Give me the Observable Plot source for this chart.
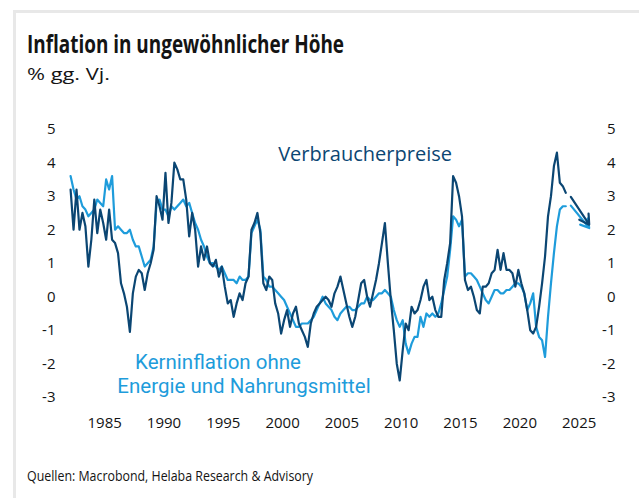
<!DOCTYPE html>
<html>
<head>
<meta charset="utf-8">
<script src="https://cdn.jsdelivr.net/npm/d3@7"></script>
<script src="https://cdn.jsdelivr.net/npm/@observablehq/plot@0.6"></script>
<style>
  body { margin: 0; background: #fff; }
  #wrap { position: relative; width: 639px; height: 498px; overflow: hidden; background: #fff;
          font-family: "Open Sans", sans-serif; color: #141414; }
  #frame { position: absolute; left: 13px; top: 10px; width: 700px; height: 600px;
           border-top: 3px solid #e8e8e8; border-left: 3px solid #e8e8e8; }
  .t { position: absolute; left: 27px; white-space: nowrap; transform-origin: 0 0; line-height: 1; }
  #title { top: 30.8px; font-size: 25px; font-weight: 700; }
  #subtitle { top: 64.9px; font-size: 17px; }
  #caption { top: 469.3px; font-size: 14px; }
  #chart { position: absolute; left: 0; top: 100px; }
</style>
</head>
<body>
<div id="wrap">
  <div id="frame"></div>
  <div class="t" id="title" data-w="317">Inflation in ungewöhnlicher Höhe</div>
  <div class="t" id="subtitle" data-w="83">% gg. Vj.</div>
  <div id="chart"></div>
  <div class="t" id="caption" data-w="286">Quellen: Macrobond, Helaba Research &amp; Advisory</div>
</div>
<script>
// Quarterly year-over-year rates, % (1982 Q1 ... 2023 Q4)
const startYear = 1982;
const cpi = [
  3.2, 2.0, 3.2, 2.0,   2.5, 2.1, 0.9, 1.7,   2.9, 1.9, 2.6, 2.2,   1.7, 2.6, 1.7, 1.6,
  1.3, 0.4, 0.1, -0.3,  -1.05, 0.1, 0.6, 0.8, 0.7, 0.2, 0.7, 1.0,   1.4, 3.0, 2.7, 2.3,
  3.7, 2.2, 2.8, 4.0,   3.8, 3.5, 3.5, 2.9,   1.8, 2.5, 2.0, 0.9,   1.5, 1.1, 1.5, 1.0,
  0.9, 1.1, 0.6, 0.9,   0.3, -0.2, -0.1, -0.6, -0.2, 0.1, -0.1, 0.4, 0.6, 2.0, 2.2, 2.5,
  1.9, 0.4, 0.2, 0.6,   0.5, -0.2, -0.5, -1.1, -0.7, -0.4, -0.9, -0.5, -0.3, -0.8, -1.0, -1.2,
  -1.5, -0.8, -0.5, -0.3, -0.2, -0.1, 0.0, -0.1, -0.3, 0.1, 0.3, 0.6, 0.2, -0.2, -0.6, -0.9,
  -0.6, -0.1, 0.4, 0.5, 0.0, -0.3, 0.1, 0.5,  1.0, 1.6, 2.2, 1.0,   -0.1, -1.0, -2.0, -2.5,
  -1.6, -0.8, -1.0, -0.3, -0.5, -0.4, -0.1, 0.3, 0.5, -0.1, 0.0, -0.4, -0.6, -0.6, 0.5, 1.0,
  1.6, 3.6, 3.4, 3.0,   2.4, 0.5, 0.2, 0.3,   0.0, -0.4, -0.5, 0.3,  0.3, 0.4, 0.7, 0.8,
  1.4, 0.8, 1.3, 0.8,   0.8, 0.7, 0.3, 0.8,   0.4, 0.1, -0.4, -1.0, -1.1, -0.9, -0.3, 0.4,
  1.2, 2.4, 3.0, 3.9,   4.3, 3.4, 3.3, 3.1
];
const core = [
  3.6, 3.2, 2.9, 3.0,   2.7, 2.6, 2.4, 2.5,   2.6, 2.9, 2.8, 2.7,   3.5, 3.2, 3.6, 2.0,
  2.1, 2.0, 1.9, 1.9,   2.0, 1.7, 1.5, 1.5,   1.2, 0.9, 1.0, 1.1,   1.5, 2.8, 2.9, 2.6,
  2.6, 2.4, 2.7, 2.6,   2.7, 2.8, 2.9, 2.7,   2.8, 2.5, 2.2, 2.0,   1.7, 1.5, 1.2, 1.0,
  1.0, 0.9, 0.8, 0.9,   0.7, 0.5, 0.5, 0.5,   0.4, 0.6, 0.5, 0.5,   0.6, 1.9, 2.1, 2.3,
  2.0, 0.6, 0.5, 0.3,   0.3, 0.2, 0.1, 0.0,   -0.1, -0.3, -0.5, -0.7, -0.9, -0.9, -0.8, -0.8,
  -0.8, -0.7, -0.6, -0.4, -0.2, 0.0, -0.2, -0.3, -0.4, -0.6, -0.7, -0.5, -0.4, -0.3, -0.3, -0.4,
  -0.4, -0.3, -0.2, -0.2, 0.0, -0.1, -0.1, 0.0, 0.1, 0.1, 0.2, 0.1,   0.0, -0.4, -0.7, -0.9,
  -0.7, -1.4, -1.7, -1.4, -1.2, -1.2, -0.6, -0.9, -0.5, -0.6, -0.5, -0.6, -0.5, -0.2, 0.2, 0.6,
  1.4, 2.4, 2.3, 2.1,   2.3, 0.6, 0.7, 0.7,   0.6, 0.5, 0.3, 0.1,   -0.1, -0.2, 0.0, 0.2,
  0.2, 0.1, 0.1, 0.2,   0.2, 0.3, 0.4, 0.4,   0.3, 0.1, -0.4, -0.2,  0.1, -0.9, -1.2, -1.3,
  -1.8, -0.6, 0.4, 1.3, 2.1, 2.6, 2.7, 2.7
];
// Forecast arrows (start/end year and value)
const forecastYears = [2024.3, 2025.85];
const cpiForecast = [2.98, 2.15];
const coreForecast = [2.72, 2.05];
const yTicks = [-3, -2, -1, 0, 1, 2, 3, 4, 5];
const xTicks = [1985, 1990, 1995, 2000, 2005, 2010, 2015, 2020, 2025];
const cpiName = "Verbraucherpreise";
const coreName = ["Kerninflation ohne", "Energie und Nahrungsmittel"];

const DARK = "#0b4673";
const LIGHT = "#1e9cdb";

const toRows = arr => arr.map((v, i) => ({t: startYear + (i + 0.5) / 4, v}));
const cpiRows = toRows(cpi);
const coreRows = toRows(core);
const arrows = [
  {x1: forecastYears[0], y1: coreForecast[0], x2: forecastYears[1], y2: coreForecast[1], c: LIGHT},
  {x1: forecastYears[0], y1: cpiForecast[0], x2: forecastYears[1], y2: cpiForecast[1], c: DARK}
];
const fmt = d => String(d);

const chart = Plot.plot({
  width: 639,
  height: 340,
  marginLeft: 68.6,
  marginRight: 48.5,
  marginTop: 28.7,
  marginBottom: 43.3,
  x: {domain: [1982, 2026]},
  y: {domain: [-3, 5]},
  style: {fontFamily: "Open Sans", fontSize: "15px", color: "#141414", background: "transparent"},
  marks: [
    Plot.axisY(yTicks, {anchor: "left", tickSize: 0, tickPadding: 13.6, tickFormat: fmt, label: null}),
    Plot.axisY(yTicks, {anchor: "right", tickSize: 0, tickPadding: 24.5, textAnchor: "end", tickFormat: fmt, label: null}),
    Plot.axisX(xTicks, {anchor: "bottom", tickSize: 0, tickPadding: 20, tickFormat: fmt, label: null}),
    Plot.line(coreRows, {x: "t", y: "v", stroke: LIGHT, strokeWidth: 2.2}),
    Plot.line(cpiRows, {x: "t", y: "v", stroke: DARK, strokeWidth: 2.2}),
    Plot.arrow(arrows, {x1: "x1", y1: "y1", x2: "x2", y2: "y2", stroke: "c", strokeWidth: 2.2, headLength: 10}),
    Plot.text([cpiName], {x: 2006.95, y: 4.23, text: d => d, fill: DARK, fontSize: 20}),
    Plot.text([coreName.join("\n")], {x: 1995.65, y: -2.285, text: d => d, fill: LIGHT, fontSize: 20.5,
      fontFamily: "Roboto", lineHeight: 1.18})
  ]
});
document.getElementById("chart").appendChild(chart);

// the two lines of the core-inflation label are not centred on each other in the original
chart.querySelectorAll("tspan").forEach(ts => {
  if (ts.textContent === coreName[0]) ts.setAttribute("dx", "-13");
  if (ts.textContent === coreName[1]) ts.setAttribute("dx", "13");
});

// squeeze the condensed-looking header/footer texts to their measured widths
document.querySelectorAll(".t[data-w]").forEach(el => {
  const w = el.getBoundingClientRect().width;
  el.style.transform = `scaleX(${(+el.dataset.w) / w})`;
});
</script>
</body>
</html>
